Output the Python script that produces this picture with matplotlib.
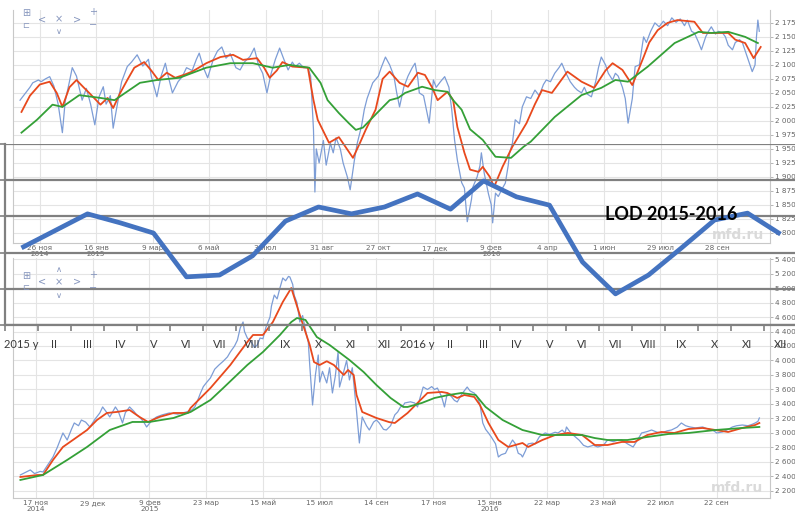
import matplotlib
matplotlib.use("Agg")
import matplotlib.pyplot as plt
import numpy as np

W, H = 795, 518

# ---------------- верхний график: S&P 500 (номер сессии, значение) ----------------
sp_day = [-14, -10, -7, -5, -1, 1, 4, 7, 10, 13, 16, 18, 21, 23, 26, 30, 33, 36, 39, 42,
          45, 47, 50, 52, 55, 58, 62, 65, 69, 73, 77, 79, 83, 86, 89, 91, 94, 98, 101, 104,
          108, 111, 113, 116, 119, 123, 126, 129, 132, 135, 139, 142, 145, 149, 152, 155, 158, 161, 164, 167,
          170, 173, 176, 179, 181, 184, 187, 190, 192, 194, 195, 196, 198, 201, 203, 206, 208, 210, 213, 215,
          218, 220, 223, 225, 228, 230, 232, 236, 240, 242, 245, 248, 251, 253, 255, 258, 261, 264, 266, 268,
          269, 272, 274, 276, 279, 281, 284, 287, 290, 292, 294, 296, 299, 301, 303, 306, 307, 310, 312, 313,
          315, 318, 320, 321, 323, 325, 328, 330, 332, 333, 335, 337, 340, 342, 345, 348, 351, 354, 357, 359,
          362, 365, 368, 370, 373, 376, 379, 381, 384, 386, 388, 391, 394, 396, 398, 401, 403, 406, 408, 410,
          413, 415, 417, 420, 422, 425, 428, 430, 433, 436, 439, 442, 445, 448, 451, 454, 457, 459, 462, 464,
          467, 469, 472, 474, 476, 479, 481, 484, 486, 488, 491, 493, 496, 498, 500, 502, 504, 505, 507, 508,
          509, 510]
sp_close = [2037, 2050, 2060, 2068, 2073, 2070, 2075, 2079, 2062, 2030, 1979, 2035, 2070, 2095, 2080, 2037, 2058, 2030, 1993, 2043,
            2061, 2030, 2045, 1987, 2030, 2070, 2097, 2105, 2118, 2098, 2110, 2080, 2043, 2080, 2103, 2080, 2050, 2070, 2079, 2095,
            2090, 2110, 2121, 2095, 2077, 2110, 2125, 2132, 2112, 2120, 2095, 2091, 2105, 2115, 2130, 2100, 2085, 2050, 2085, 2110,
            2130, 2110, 2091, 2105, 2097, 2103, 2095, 2095, 2080, 1984, 1873, 1950, 1925, 1965, 1921, 1960, 1943, 1970, 1950, 1925,
            1900, 1877, 1930, 1960, 1990, 2020, 2040, 2068, 2080, 2095, 2114, 2100, 2080, 2050, 2025, 2060, 2080, 2095, 2103, 2075,
            2050, 2045, 2020, 1996, 2073, 2060, 2070, 2079, 2060, 2020, 1966, 1930, 1890, 1880, 1820, 1860, 1882, 1900, 1920, 1943,
            1907, 1870, 1850, 1818, 1871, 1865, 1880, 1889, 1920, 1943, 1960, 2002, 1995, 2025, 2043, 2040, 2055, 2045, 2065, 2073,
            2070, 2085, 2095, 2103, 2085, 2070, 2060, 2055, 2050, 2060, 2048, 2043, 2070, 2095, 2114, 2100, 2085, 2073, 2085, 2080,
            2060, 2040, 1996, 2040, 2097, 2100, 2150, 2140, 2160, 2175, 2168, 2178, 2170, 2184, 2176, 2182, 2170, 2180, 2160, 2157,
            2140, 2127, 2150, 2160, 2168, 2155, 2160, 2157, 2150, 2135, 2127, 2140, 2145, 2140, 2125, 2110, 2095, 2088, 2100, 2150,
            2180, 2160]

sp_fast_day = [-13, -7, 0, 7, 12, 16, 21, 26, 31, 35, 43, 48, 52, 57, 62, 67, 74, 79, 84, 90,
               96, 103, 108, 118, 128, 137, 144, 154, 159, 163, 168, 172, 179, 190, 194, 197, 205, 212, 222, 227,
               231, 238, 243, 248, 255, 261, 268, 273, 278, 282, 289, 293, 296, 301, 305, 311, 314, 319, 322, 328,
               335, 345, 351, 356, 363, 374, 384, 393, 401, 406, 413, 420, 428, 432, 438, 445, 452, 464, 470, 479,
               488, 493, 500, 506, 511]
sp_fast = [2016, 2045, 2065, 2070, 2050, 2025, 2060, 2073, 2060, 2050, 2029, 2041, 2023, 2050, 2073, 2095, 2105, 2090, 2073, 2086,
           2077, 2083, 2088, 2103, 2114, 2118, 2109, 2112, 2095, 2077, 2090, 2105, 2097, 2095, 2037, 2002, 1961, 1971, 1934, 1961,
           1984, 2020, 2075, 2088, 2068, 2061, 2086, 2082, 2060, 2037, 2052, 2037, 1989, 1943, 1913, 1909, 1918, 1900, 1882, 1918,
           1954, 1996, 2030, 2055, 2050, 2088, 2070, 2059, 2090, 2103, 2091, 2064, 2114, 2140, 2162, 2175, 2180, 2177, 2157, 2157,
           2157, 2145, 2139, 2112, 2132]

sp_slow_day = [-13, -2, 9, 16, 28, 43, 53, 71, 83, 99, 118, 135, 151, 165, 177, 191, 199, 204, 212, 219,
               224, 229, 239, 248, 254, 259, 271, 280, 289, 293, 299, 305, 314, 323, 334, 343, 348, 365, 384, 398,
               408, 417, 431, 450, 467, 476, 488, 500, 509]
sp_slow = [1979, 2002, 2029, 2025, 2046, 2041, 2037, 2068, 2073, 2077, 2095, 2103, 2103, 2095, 2100, 2095, 2068, 2037, 2014, 1996,
           1984, 1988, 2014, 2037, 2041, 2050, 2061, 2055, 2052, 2037, 2020, 1985, 1966, 1936, 1934, 1954, 1963, 2007, 2046, 2059,
           2073, 2070, 2097, 2139, 2159, 2157, 2159, 2150, 2139]

sp_dates = ["26 ноя\n2014", "16 янв\n2015", "9 мар", "6 май", "3 июл", "31 авг", "27 окт",
            "17 дек", "9 фев\n2016", "4 апр", "1 июн", "29 июл", "28 сен"]
sp_levels = list(range(1800, 2176, 25))

# ---------------- нижний график: Shanghai Composite ----------------
sh_day = [-11, -8, -4, -1, 3, 5, 8, 12, 15, 19, 22, 25, 27, 30, 32, 35, 38, 42, 45, 47,
          50, 52, 56, 58, 61, 63, 66, 69, 71, 73, 76, 78, 82, 85, 89, 94, 100, 106, 110, 112,
          114, 116, 118, 120, 123, 126, 129, 132, 135, 137, 140, 142, 144, 146, 147, 149, 152, 154, 156, 158,
          160, 162, 165, 166, 168, 170, 172, 174, 176, 178, 179, 181, 182, 184, 186, 188, 190, 192, 193, 195,
          197, 199, 200, 202, 205, 207, 209, 211, 213, 214, 217, 219, 221, 223, 225, 226, 228, 230, 233, 235,
          238, 240, 242, 245, 247, 250, 253, 255, 257, 259, 260, 264, 267, 269, 271, 273, 276, 279, 281, 283,
          286, 288, 290, 293, 295, 297, 300, 304, 306, 309, 311, 313, 315, 317, 319, 321, 324, 326, 328, 331,
          333, 336, 338, 340, 342, 343, 345, 347, 350, 352, 355, 359, 362, 366, 368, 371, 373, 374, 377, 380,
          383, 386, 389, 393, 396, 400, 403, 407, 410, 413, 417, 421, 424, 427, 431, 434, 438, 441, 445, 448,
          452, 455, 458, 461, 465, 470, 473, 477, 480, 484, 487, 491, 494, 498, 502, 505, 507, 509, 510]
sh_close = [2421, 2450, 2490, 2440, 2470, 2462, 2550, 2669, 2800, 3000, 2903, 3050, 3138, 3100, 3179, 3150, 3083, 3200, 3276, 3359,
            3280, 3221, 3359, 3300, 3138, 3280, 3359, 3300, 3250, 3221, 3150, 3083, 3180, 3221, 3250, 3276, 3260, 3290, 3320, 3359,
            3450, 3552, 3640, 3690, 3760, 3880, 3938, 3990, 4050, 4117, 4200, 4280, 4450, 4531, 4400, 4310, 4250, 4180, 4214, 4310,
            4300, 4450, 4600, 4750, 4903, 4850, 5000, 5138, 5100, 5160, 5152, 5050, 4903, 4800, 4531, 4620, 4420, 4250, 3938, 3386,
            3800, 4076, 3703, 3850, 3690, 3900, 3552, 3780, 4117, 3634, 3850, 4000, 3731, 3900, 3497, 3300, 2862, 3221, 3100, 3041,
            3150, 3180, 3138, 3050, 3041, 3100, 3250, 3290, 3359, 3380, 3414, 3430, 3414, 3359, 3500, 3634, 3600, 3640, 3600, 3620,
            3500, 3359, 3550, 3500, 3450, 3428, 3530, 3634, 3580, 3550, 3500, 3400, 3138, 3050, 3000, 2945, 2850, 2669, 2700, 2720,
            2800, 2903, 2850, 2720, 2700, 2669, 2750, 2850, 2860, 2850, 2950, 3000, 2980, 3010, 3000, 3040, 3000, 3083, 3000, 2950,
            2900, 2830, 2807, 2830, 2807, 2830, 2903, 2880, 2900, 2903, 2850, 2807, 2900, 3000, 3020, 3041, 3010, 3000, 3030, 3041,
            3080, 3138, 3100, 3083, 3070, 3083, 3060, 3041, 3000, 3014, 3040, 3083, 3100, 3110, 3100, 3120, 3138, 3160, 3207]

sh_fast_day = [-11, 1, 5, 12, 19, 26, 36, 43, 50, 57, 66, 73, 79, 87, 97, 107, 109, 123, 137, 149,
               153, 160, 167, 174, 180, 186, 193, 196, 200, 205, 210, 217, 220, 224, 226, 230, 240, 249, 253, 262,
               269, 276, 286, 290, 297, 302, 309, 313, 319, 326, 333, 343, 347, 357, 366, 375, 385, 394, 403, 413,
               422, 431, 441, 450, 460, 470, 479, 488, 498, 507, 510]
sh_fast = [2393, 2420, 2421, 2628, 2807, 2903, 3041, 3179, 3276, 3290, 3317, 3221, 3152, 3221, 3276, 3276, 3345, 3620, 3938, 4255,
           4352, 4352, 4531, 4807, 5000, 4628, 4214, 3979, 3938, 3990, 3938, 3800, 3869, 3800, 3524, 3290, 3207, 3150, 3138, 3276,
           3414, 3552, 3566, 3552, 3483, 3524, 3497, 3386, 3138, 2903, 2807, 2862, 2807, 2903, 2972, 3000, 2972, 2834, 2834, 2876,
           2876, 2972, 3014, 3000, 3055, 3069, 3041, 3014, 3069, 3110, 3138]

sh_slow_day = [-11, 5, 22, 36, 52, 68, 80, 97, 109, 123, 132, 149, 160, 172, 180, 184, 190, 198, 207, 221,
               231, 240, 250, 259, 262, 272, 281, 291, 300, 310, 317, 329, 343, 357, 371, 385, 394, 403, 417, 431,
               446, 460, 479, 498, 510]
sh_slow = [2352, 2421, 2628, 2807, 3041, 3152, 3152, 3207, 3290, 3455, 3620, 3938, 4117, 4352, 4531, 4586, 4560, 4324, 4214, 4007,
           3841, 3662, 3483, 3359, 3359, 3414, 3483, 3524, 3552, 3524, 3359, 3179, 3041, 2972, 2972, 2972, 2930, 2903, 2903, 2945,
           2986, 3000, 3041, 3069, 3083]

sh_dates = ["17 ноя\n2014", "29 дек", "9 фев\n2015", "23 мар", "15 май", "15 июл", "14 сен",
            "17 ноя", "15 янв\n2016", "22 мар", "23 май", "22 июл", "22 сен"]
sh_levels = list(range(2200, 5401, 200))

# ---------------- LOD 2015-2016 по месяцам ----------------
months = ["2015 y", "II", "III", "IV", "V", "VI", "VII", "VIII", "IX", "X", "XI", "XII",
          "2016 y", "II", "III", "IV", "V", "VI", "VII", "VIII", "IX", "X", "XI", "XII"]
lod = [2.13, 2.60, 3.07, 2.82, 2.54, 1.33, 1.38, 1.91, 2.87, 3.26, 3.07, 3.26,
       3.62, 3.20, 3.98, 3.54, 3.31, 1.74, 0.86, 1.38, 2.13, 2.90, 3.09, 2.51]

BLUE = "#7d9dd6"
RED = "#e8491d"
GREEN = "#34a037"


def px_box(x0, y0, x1, y1):
    return [x0 / W, 1 - y1 / H, (x1 - x0) / W, (y1 - y0) / H]


def space_fmt(v):
    return f"{v:,}".replace(",", " ")


def style_stock(ax, xlim, ylim, dates, levels):
    ax.set_xlim(*xlim)
    ax.set_ylim(*ylim)
    ax.set_xticks(np.arange(len(dates)) * 40)
    ax.set_xticklabels(dates, fontsize=5.2, color="#666666", linespacing=0.95)
    ax.set_yticks(levels)
    ax.set_yticklabels([space_fmt(v) for v in levels], fontsize=5.2, color="#666666")
    ax.yaxis.tick_right()
    ax.grid(True, color="#e4e4e4", lw=0.8)
    ax.set_axisbelow(True)
    ax.tick_params(axis="x", length=0, pad=1.5)
    ax.tick_params(axis="y", length=2, width=0.6, pad=1.5, color="#aaaaaa")
    for sp in ax.spines.values():
        sp.set_color("#c8c8c8")
        sp.set_linewidth(0.8)
    ax.spines["top"].set_visible(False)


fig = plt.figure(figsize=(W / 100, H / 100), dpi=100)

# верхний график
ax_top = fig.add_axes(px_box(13, 10, 770, 243))
ax_top.plot(sp_day, sp_close, color=BLUE, lw=0.9)
ax_top.plot(sp_fast_day, sp_fast, color=RED, lw=1.3)
ax_top.plot(sp_slow_day, sp_slow, color=GREEN, lw=1.3)
style_stock(ax_top, (-19, 517.6), (1782, 2198), sp_dates, sp_levels)
ax_top.text(0.958, 0.035, "mfd.ru", transform=ax_top.transAxes, fontsize=10,
            fontweight="bold", color="#dadada", ha="center", va="center")

# нижний график
ax_bot = fig.add_axes(px_box(13, 258, 770, 498))
ax_bot.plot(sh_day, sh_close, color=BLUE, lw=0.9)
ax_bot.plot(sh_fast_day, sh_fast, color=RED, lw=1.3)
ax_bot.plot(sh_slow_day, sh_slow, color=GREEN, lw=1.3)
style_stock(ax_bot, (-16.2, 517.5), (2103, 5414), sh_dates, sh_levels)
ax_bot.text(0.957, 0.04, "mfd.ru", transform=ax_bot.transAxes, fontsize=10,
            fontweight="bold", color="#dadada", ha="center", va="center")

# кнопки навигации
def icon(x, y, s, size=7):
    fig.text(x / W, 1 - y / H, s, fontsize=size, color="#8595bd", ha="center", va="center")

for dy, extra in ((0, False), (263, True)):
    icon(26, 13 + dy, "⊞", 7)
    icon(26, 25 + dy, "⊏", 6)
    icon(42, 19 + dy, "<", 7)
    icon(59, 19 + dy, "×", 7)
    icon(77, 19 + dy, ">", 7)
    icon(59, 32 + dy, "∨", 6)
    icon(93, 12 + dy, "+", 7)
    icon(93, 25 + dy, "−", 7)
    if extra:
        icon(59, 6 + dy, "∧", 6)

# наложенный график LOD
ax_lod = fig.add_axes(px_box(5, 144, 797, 325))
ax_lod.set_facecolor("none")
ax_lod.plot(np.arange(len(lod)) + 0.5, lod, color="#4473c0", lw=3.4,
            solid_joinstyle="round", solid_capstyle="butt", zorder=3)
ax_lod.set_xlim(0, 24)
ax_lod.set_ylim(0, 5)
ax_lod.set_yticks(range(6))
ax_lod.set_yticklabels([])
ax_lod.grid(axis="y", color="#808080", lw=1.6)
ax_lod.set_xticks(np.arange(25))
ax_lod.set_xticklabels([])
ax_lod.set_xticks(np.arange(24) + 0.5, minor=True)
ax_lod.set_xticklabels(months, minor=True, fontsize=8, color="#3a3a3a", family="Lato")
ax_lod.tick_params(axis="both", which="major", length=4, width=1.2, color="#808080", direction="out")
ax_lod.tick_params(axis="x", which="minor", length=0, pad=10)
for side in ("top", "right"):
    ax_lod.spines[side].set_visible(False)
for side in ("left", "bottom"):
    ax_lod.spines[side].set_color("#808080")
    ax_lod.spines[side].set_linewidth(1.6)
ax_lod.text(20.2, 3.04, "LOD 2015-2016", fontsize=13, fontweight="bold", family="Lato",
            ha="center", va="center", color="black", zorder=4)

fig.savefig("out.png", dpi=100)
